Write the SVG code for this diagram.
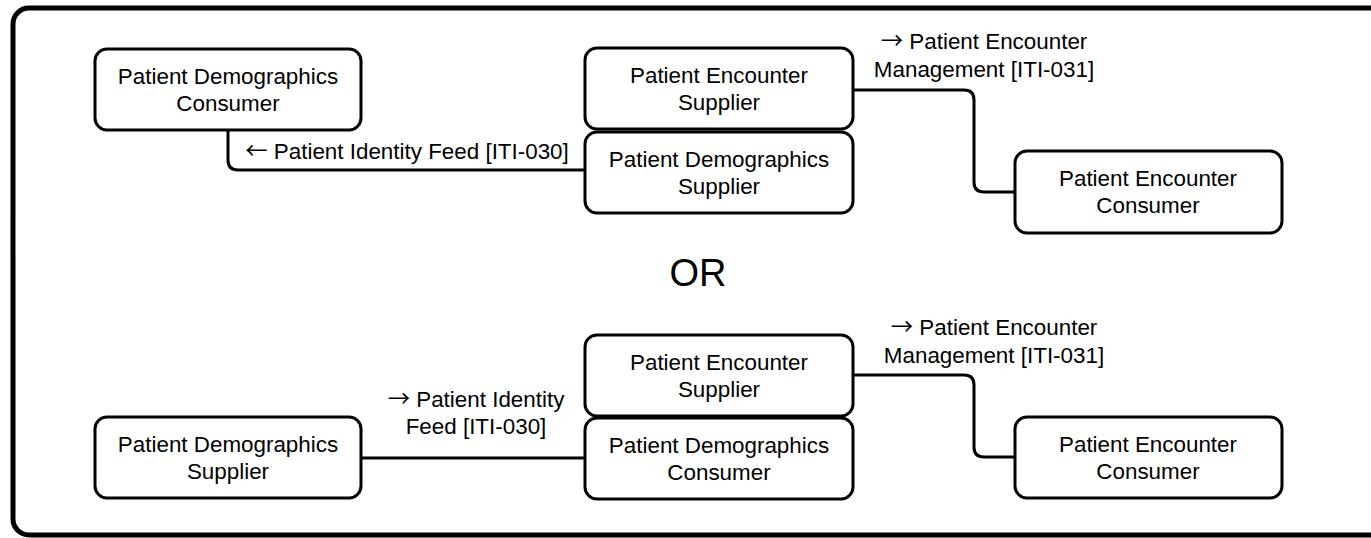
<svg xmlns="http://www.w3.org/2000/svg" width="1371" height="538" viewBox="0 0 1371 538">
<style>
.node rect{fill:#fff;stroke:#000;stroke-width:3}
.node text,.lbl{font-family:"Liberation Sans",Arial,sans-serif;font-size:22.4px;fill:#000;text-anchor:middle}
.arr{font-family:"Noto Sans CJK SC","DejaVu Sans",sans-serif}
.conn path{fill:none;stroke:#000;stroke-width:3}
</style>
<rect x="13" y="8" width="1400" height="527" rx="16" fill="#fff" stroke="#000" stroke-width="5"/>
<g class="conn">
<path d="M228,130 V160 Q228,170 238,170 H585"/>
<path d="M853,90 H964 Q974,90 974,100 V182 Q974,192 984,192 H1015"/>
<path d="M361,458 H585"/>
<path d="M853,375 H964 Q974,375 974,385 V447 Q974,457 984,457 H1015"/>
</g>
<g id="lbl-top-left"><text class="lbl" x="407" y="159"><tspan class="arr">←</tspan> Patient Identity Feed [ITI-030]</text></g>
<g id="lbl-top-right"><text class="lbl" x="984" y="49"><tspan class="arr">→</tspan> Patient Encounter</text><text class="lbl" x="984" y="77">Management [ITI-031]</text></g>
<g id="lbl-bot-left"><text class="lbl" x="476" y="407"><tspan class="arr">→</tspan> Patient Identity</text><text class="lbl" x="476" y="434">Feed [ITI-030]</text></g>
<g id="lbl-bot-right"><text class="lbl" x="994" y="335"><tspan class="arr">→</tspan> Patient Encounter</text><text class="lbl" x="994" y="363">Management [ITI-031]</text></g>
<g id="or"><text x="698" y="286" font-family="Liberation Sans,Arial,sans-serif" font-size="38" text-anchor="middle">OR</text></g>
<g id="n1" class="node"><rect x="95" y="49" width="266" height="81" rx="12"/><text x="228" y="84">Patient Demographics</text><text x="228" y="111">Consumer</text></g>
<g id="n2" class="node"><rect x="585" y="48" width="268" height="81" rx="12"/><text x="719" y="83">Patient Encounter</text><text x="719" y="110">Supplier</text></g>
<g id="n3" class="node"><rect x="585" y="132" width="268" height="81" rx="12"/><text x="719" y="167">Patient Demographics</text><text x="719" y="194">Supplier</text></g>
<g id="n4" class="node"><rect x="1015" y="151" width="267" height="82" rx="12"/><text x="1148" y="186">Patient Encounter</text><text x="1148" y="213">Consumer</text></g>
<g id="n5" class="node"><rect x="95" y="417" width="266" height="81" rx="12"/><text x="228" y="452">Patient Demographics</text><text x="228" y="479">Supplier</text></g>
<g id="n6" class="node"><rect x="585" y="335" width="268" height="81" rx="12"/><text x="719" y="370">Patient Encounter</text><text x="719" y="397">Supplier</text></g>
<g id="n7" class="node"><rect x="585" y="418" width="268" height="81" rx="12"/><text x="719" y="453">Patient Demographics</text><text x="719" y="480">Consumer</text></g>
<g id="n8" class="node"><rect x="1015" y="417" width="267" height="81" rx="12"/><text x="1148" y="452">Patient Encounter</text><text x="1148" y="479">Consumer</text></g>
</svg>
